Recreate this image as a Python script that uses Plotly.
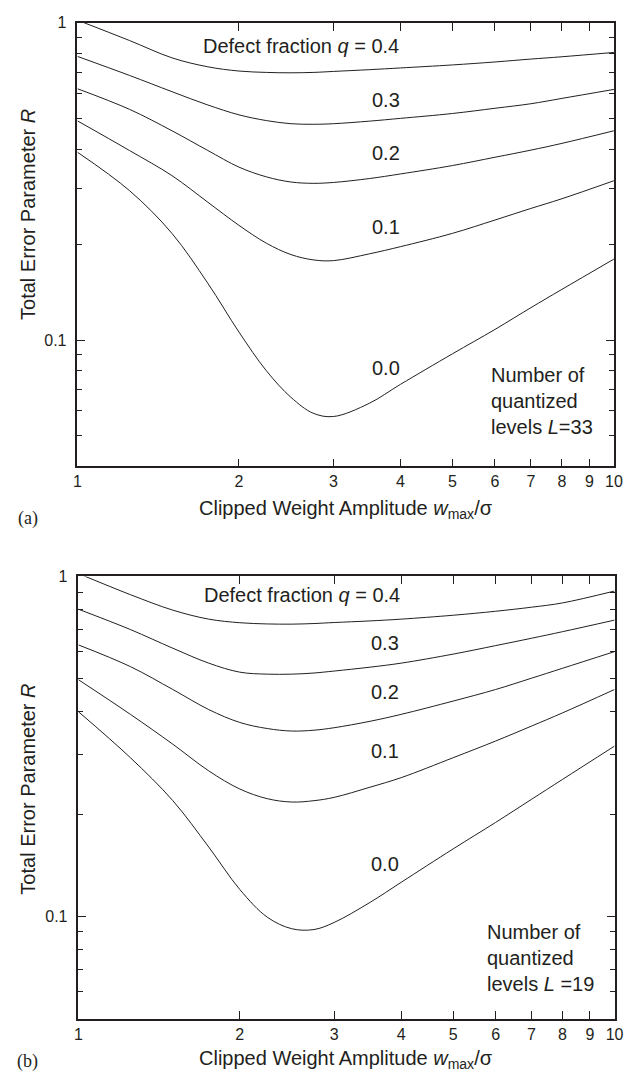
import math
import plotly.graph_objects as go

# ---------------- data ----------------
x_grid = [1, 1.25, 1.5, 1.75, 2, 2.25, 2.5, 2.75, 3, 3.5, 4, 5, 6, 7, 8, 10]
q_labels = ["0.4", "0.3", "0.2", "0.1", "0.0"]

# panel (a): L = 33
R_a_q04 = [1.02, 0.880, 0.776, 0.727, 0.705, 0.698, 0.696, 0.698, 0.703, 0.712, 0.721, 0.737, 0.753, 0.769, 0.782, 0.807]
R_a_q03 = [0.784, 0.683, 0.607, 0.551, 0.513, 0.492, 0.481, 0.479, 0.481, 0.490, 0.500, 0.518, 0.538, 0.556, 0.578, 0.617]
R_a_q02 = [0.620, 0.534, 0.457, 0.396, 0.351, 0.327, 0.315, 0.312, 0.314, 0.323, 0.334, 0.355, 0.377, 0.397, 0.417, 0.457]
R_a_q01 = [0.491, 0.396, 0.330, 0.272, 0.230, 0.202, 0.186, 0.179, 0.178, 0.187, 0.197, 0.217, 0.239, 0.260, 0.279, 0.318]
R_a_q00 = [0.391, 0.296, 0.217, 0.151, 0.106, 0.080, 0.0660, 0.0588, 0.0574, 0.0632, 0.0725, 0.0905, 0.108, 0.1265, 0.1445, 0.180]

# panel (b): L = 19
R_b_q04 = [1.02, 0.884, 0.796, 0.749, 0.731, 0.725, 0.724, 0.727, 0.732, 0.740, 0.749, 0.769, 0.790, 0.812, 0.836, 0.906]
R_b_q03 = [0.801, 0.698, 0.615, 0.556, 0.523, 0.516, 0.516, 0.520, 0.527, 0.541, 0.556, 0.591, 0.626, 0.658, 0.688, 0.744]
R_b_q02 = [0.629, 0.543, 0.465, 0.406, 0.372, 0.357, 0.351, 0.353, 0.359, 0.375, 0.393, 0.430, 0.465, 0.502, 0.537, 0.601]
R_b_q01 = [0.497, 0.393, 0.321, 0.268, 0.237, 0.222, 0.217, 0.219, 0.224, 0.240, 0.256, 0.293, 0.328, 0.363, 0.397, 0.465]
R_b_q00 = [0.400, 0.293, 0.219, 0.160, 0.120, 0.0995, 0.0920, 0.0915, 0.0960, 0.110, 0.126, 0.158, 0.189, 0.221, 0.253, 0.317]

x_ticks = [1, 2, 3, 4, 5, 6, 7, 8, 9, 10]
x_ticklabels = ["1", "2", "3", "4", "5", "6", "7", "8", "9", "10"]
y_ticks = [0.1, 1]
y_ticklabels = ["0.1", "1"]
y_minor = [0.04, 0.05, 0.06, 0.07, 0.08, 0.09, 0.2, 0.3, 0.4, 0.5, 0.6, 0.7, 0.8, 0.9]

# ---------------- style ----------------
W, H = 634, 1081
ink = "#231f20"
sans = "Liberation Sans, Arial, Helvetica, sans-serif"
serif = "Liberation Serif, Times New Roman, serif"

fig = go.Figure()

panels = [
    ("x", "y", [R_a_q04, R_a_q03, R_a_q02, R_a_q01, R_a_q00]),
    ("x2", "y2", [R_b_q04, R_b_q03, R_b_q02, R_b_q01, R_b_q00]),
]
for xa, ya, series in panels:
    for lab, ys in zip(q_labels, series):
        fig.add_trace(go.Scatter(
            x=x_grid, y=ys, mode="lines", xaxis=xa, yaxis=ya,
            line=dict(color=ink, width=1, shape="spline", smoothing=1.0),
            name="q=" + lab, showlegend=False, hoverinfo="skip"))


def xaxis(domain, anchor):
    return dict(type="log", range=[0, 1], domain=domain, anchor=anchor,
                tickmode="array", tickvals=x_ticks, ticktext=x_ticklabels,
                ticks="inside", ticklen=8, tickwidth=1, tickcolor=ink,
                showline=True, linewidth=1.5, linecolor=ink, mirror="ticks",
                showgrid=False, zeroline=False,
                tickfont=dict(family=sans, size=16, color=ink),
                ticklabelstandoff=0)


def yaxis(domain, anchor, lo):
    return dict(type="log", range=[lo, 0], domain=domain, anchor=anchor,
                tickmode="array", tickvals=y_ticks, ticktext=y_ticklabels,
                ticks="inside", ticklen=8, tickwidth=1, tickcolor=ink,
                minor=dict(tickmode="array", tickvals=y_minor, ticks="inside",
                           ticklen=5, tickwidth=1, tickcolor=ink, showgrid=False),
                showline=True, linewidth=1.5, linecolor=ink, mirror="ticks",
                showgrid=False, zeroline=False,
                tickfont=dict(family=sans, size=16, color=ink),
                ticklabelstandoff=6)


fig.update_layout(
    width=W, height=H,
    margin=dict(l=0, r=0, t=0, b=0),
    paper_bgcolor="white", plot_bgcolor="white",
    showlegend=False,
    xaxis=xaxis([75 / W, 622.7 / W], "y"),
    yaxis=yaxis([1 - 461.7 / H, 1 - 15 / H], "x", math.log10(0.04)),
    xaxis2=xaxis([76 / W, 623.3 / W], "y2"),
    yaxis2=yaxis([1 - 1018.3 / H, 1 - 572.7 / H], "x2", math.log10(0.05)),
)

big = dict(family=sans, size=20, color=ink)
ann = []


def curve_labels(xref, yref, defect_xy, lab_x, lab_ys, note_xy, note_text):
    ann.append(dict(x=defect_xy[0], y=defect_xy[1], xref=xref, yref=yref,
                    text="Defect fraction <i>q</i> = 0.4", showarrow=False,
                    xanchor="left", yanchor="middle", font=big))
    for lab, yy in zip(q_labels[1:], lab_ys):
        ann.append(dict(x=lab_x, y=yy, xref=xref, yref=yref, text=lab,
                        showarrow=False, xanchor="center", yanchor="middle", font=big))
    ann.append(dict(x=note_xy[0], y=note_xy[1], xref=xref, yref=yref,
                    text=note_text, showarrow=False, align="left",
                    xanchor="left", yanchor="middle", font=big))


curve_labels("x", "y", (0.230, -0.0737), 0.575, [-0.2445, -0.4107, -0.6426, -1.0878],
             (0.767, -1.191), "Number of<br>quantized<br>levels <i>L</i>=33")
curve_labels("x2", "y2", (0.2297, -0.0535), 0.572, [-0.195, -0.341, -0.513, -0.846],
             (0.7577, -1.122), "Number of<br>quantized<br>levels <i>L</i> =19")

xtitle = "Clipped Weight Amplitude <i>w</i><sub>max</sub>/σ"
ytitle = "Total Error Parameter <i>R</i>"
for cx, cy_xt, cy_yt, tag, cy_tag in [(349, 505, 208, "(a)", 514), (349.6, 1059, 787, "(b)", 1061)]:
    ann.append(dict(x=cx / W, y=1 - cy_xt / H, xref="paper", yref="paper", text=xtitle,
                    showarrow=False, xanchor="center", yanchor="middle", font=big))
    ann.append(dict(x=25 / W, y=1 - cy_yt / H, xref="paper", yref="paper", text=ytitle,
                    showarrow=False, xanchor="center", yanchor="middle", textangle=-90, font=big))
    ann.append(dict(x=24 / W, y=1 - cy_tag / H, xref="paper", yref="paper", text=tag,
                    showarrow=False, xanchor="center", yanchor="middle",
                    font=dict(family=serif, size=18, color=ink)))

fig.update_layout(annotations=ann)
fig.write_html("out.html")
